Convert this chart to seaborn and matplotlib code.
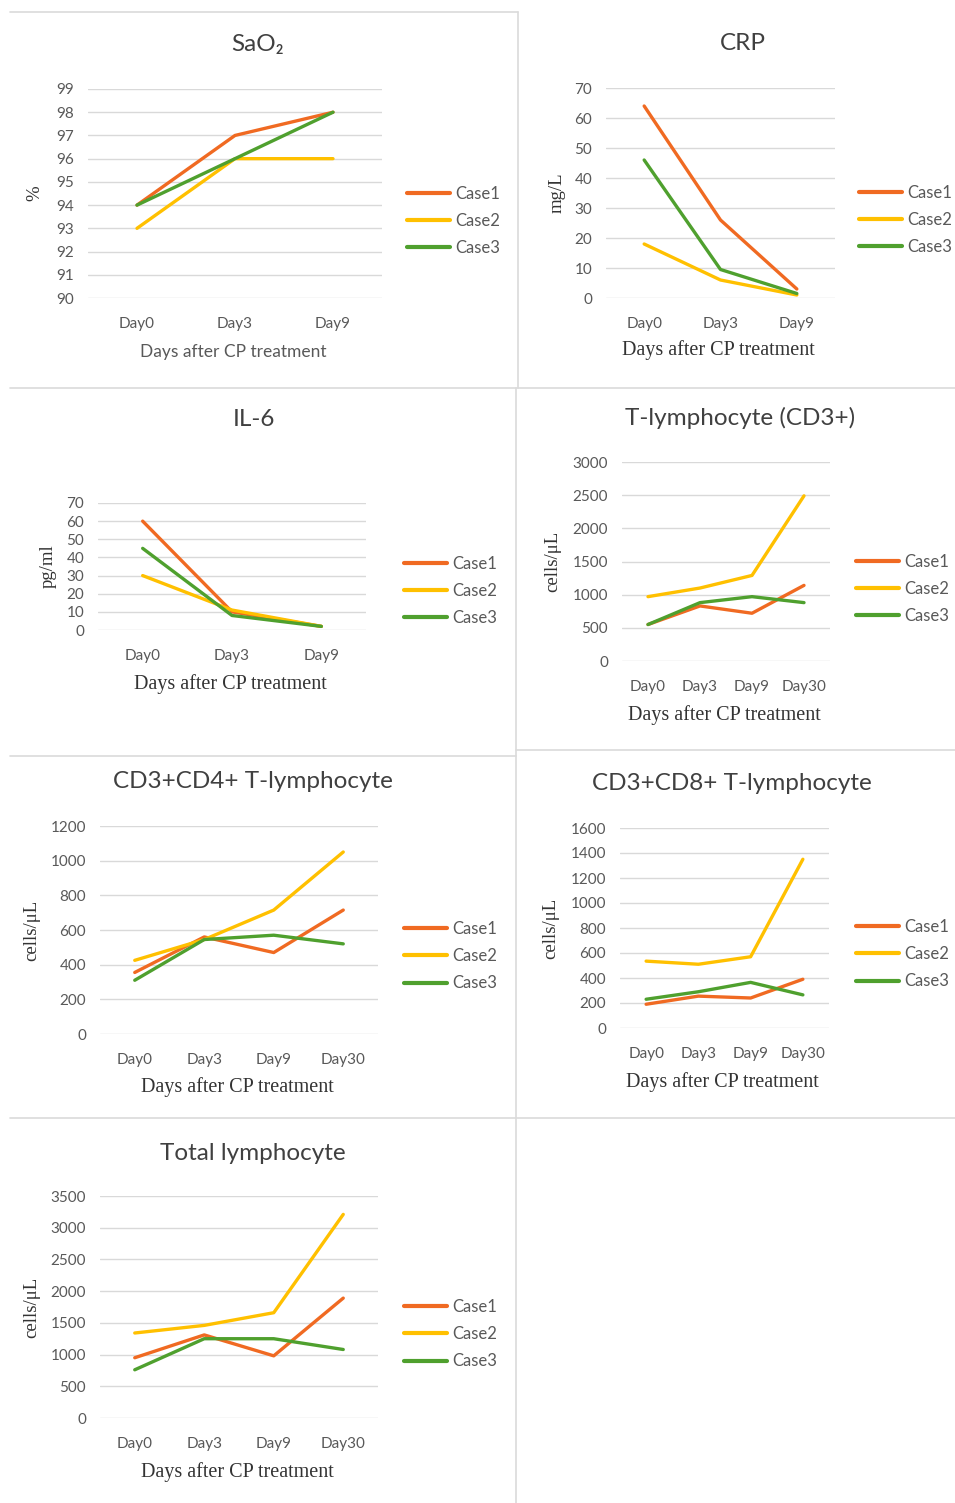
import matplotlib
matplotlib.use("Agg")
import matplotlib.pyplot as plt
from matplotlib.lines import Line2D
import seaborn as sns
import pandas as pd

sns.set_theme(style="white")
plt.rcParams['font.family'] = ['Lato', 'DejaVu Sans']

W, H = 955, 1503

cases = ["Case1", "Case2", "Case3"]
colors = ["#F06A22", "#FFC000", "#4FA02E"]

days3 = ["Day0", "Day3", "Day9"]
days4 = ["Day0", "Day3", "Day9", "Day30"]

sao2_c1 = [94, 97, 98]
sao2_c2 = [93, 96, 96]
sao2_c3 = [94, 96, 98]

crp_c1 = [64, 26, 3]
crp_c2 = [18, 6, 1]
crp_c3 = [46, 9.5, 1.5]

il6_c1 = [60, 10, 2]
il6_c2 = [30, 11, 2]
il6_c3 = [45, 8, 2]

cd3_c1 = [550, 830, 720, 1140]
cd3_c2 = [970, 1100, 1290, 2490]
cd3_c3 = [550, 880, 970, 880]

cd4_c1 = [355, 560, 470, 715]
cd4_c2 = [425, 545, 715, 1050]
cd4_c3 = [310, 545, 570, 520]

cd8_c1 = [190, 255, 240, 390]
cd8_c2 = [535, 510, 570, 1350]
cd8_c3 = [230, 290, 365, 265]

tot_c1 = [950, 1310, 980, 1890]
tot_c2 = [1340, 1460, 1660, 3210]
tot_c3 = [760, 1250, 1250, 1080]

panels = [
    dict(title="SaO₂", days=days3, vals=[sao2_c1, sao2_c2, sao2_c3],
         ylim=(90, 99), ticks=list(range(90, 100)), ylabel="%",
         ax_px=(88, 89, 382, 298), title_xy=(258, 45), ylab_x=35,
         xlab_y=352, leg=(405, 193), xlab_sans=True),
    dict(title="CRP", days=days3, vals=[crp_c1, crp_c2, crp_c3],
         ylim=(0, 70), ticks=list(range(0, 71, 10)), ylabel="mg/L",
         ax_px=(606, 88, 835, 298), title_xy=(743, 43), ylab_x=557,
         xlab_y=350, leg=(857, 192), xlab_sans=False),
    dict(title="IL-6", days=days3, vals=[il6_c1, il6_c2, il6_c3],
         ylim=(0, 70), ticks=list(range(0, 71, 10)), ylabel="pg/ml",
         ax_px=(98, 503, 366, 630), title_xy=(254, 420), ylab_x=48,
         xlab_y=684, leg=(402, 563), xlab_sans=False),
    dict(title="T-lymphocyte (CD3+)", days=days4, vals=[cd3_c1, cd3_c2, cd3_c3],
         ylim=(0, 3000), ticks=list(range(0, 3001, 500)), ylabel="cells/μL",
         ax_px=(622, 462, 830, 661), title_xy=(740, 418), ylab_x=553,
         xlab_y=715, leg=(854, 561), xlab_sans=False),
    dict(title="CD3+CD4+ T-lymphocyte", days=days4, vals=[cd4_c1, cd4_c2, cd4_c3],
         ylim=(0, 1200), ticks=list(range(0, 1201, 200)), ylabel="cells/μL",
         ax_px=(100, 826, 378, 1034), title_xy=(253, 781), ylab_x=32,
         xlab_y=1087, leg=(402, 928), xlab_sans=False),
    dict(title="CD3+CD8+ T-lymphocyte", days=days4, vals=[cd8_c1, cd8_c2, cd8_c3],
         ylim=(0, 1600), ticks=list(range(0, 1601, 200)), ylabel="cells/μL",
         ax_px=(620, 828, 829, 1028), title_xy=(732, 784), ylab_x=551,
         xlab_y=1082, leg=(854, 926), xlab_sans=False),
    dict(title="Total lymphocyte", days=days4, vals=[tot_c1, tot_c2, tot_c3],
         ylim=(0, 3500), ticks=list(range(0, 3501, 500)), ylabel="cells/μL",
         ax_px=(100, 1196, 378, 1418), title_xy=(253, 1153), ylab_x=32,
         xlab_y=1472, leg=(402, 1306), xlab_sans=False),
]

fig = plt.figure(figsize=(W / 100, H / 100), dpi=100)
fig.patch.set_facecolor("white")

def fx(x):
    return x / W

def fy(y):
    return 1 - y / H

tick_col = "#595959"
text_col = "#404040"

for p in panels:
    x0, y0, x1, y1 = p["ax_px"]
    ax = fig.add_axes([fx(x0), fy(y1), (x1 - x0) / W, (y1 - y0) / H])
    rows = []
    for c, v in zip(cases, p["vals"]):
        for d, val in zip(p["days"], v):
            rows.append(dict(Day=d, Value=val, Case=c))
    df = pd.DataFrame(rows)
    sns.lineplot(data=df, x="Day", y="Value", hue="Case", palette=colors,
                 linewidth=2.4, ax=ax, legend=False, sort=False)
    n = len(p["days"])
    ax.set_xlim(-0.5, n - 0.5)
    ax.set_ylim(*p["ylim"])
    ax.set_yticks(p["ticks"])
    ax.set_yticklabels([str(t) for t in p["ticks"]])
    ax.set_xticks(range(n))
    ax.set_xticklabels(p["days"])
    for s in ax.spines.values():
        s.set_visible(False)
    ax.grid(axis="y", color="#D9D9D9", linewidth=1.0)
    ax.set_axisbelow(True)
    ax.tick_params(axis="both", length=0, labelsize=11, colors=tick_col)
    ax.tick_params(axis="y", pad=10)
    ax.tick_params(axis="x", pad=14)
    ax.set_xlabel("")
    ax.set_ylabel("")
    # title
    fig.text(fx(p["title_xy"][0]), fy(p["title_xy"][1]), p["title"],
             ha="center", va="center", fontsize=17.5, color=text_col,
             family=["Lato", "DejaVu Sans"])
    # y label
    fig.text(fx(p["ylab_x"]), fy((y0 + y1) / 2), p["ylabel"], rotation=90,
             ha="center", va="center", fontsize=13.5, color="#333333",
             family=["Liberation Serif", "DejaVu Serif"])
    # x label
    if p["xlab_sans"]:
        fig.text(fx((x0 + x1) / 2 - 2), fy(p["xlab_y"]), "Days after CP treatment",
                 ha="center", va="center", fontsize=12.5, color=tick_col)
    else:
        fig.text(fx((x0 + x1) / 2 - 2), fy(p["xlab_y"]), "Days after CP treatment",
                 ha="center", va="center", fontsize=14.5, color="#333333",
                 family=["Liberation Serif", "DejaVu Serif"])
    handles = [Line2D([0], [0], color=col, lw=3) for col in colors]
    ax.legend(handles, cases, loc="center left",
              bbox_to_anchor=(fx(p["leg"][0] + 2), fy(p["leg"][1] + 28)),
              bbox_transform=fig.transFigure, frameon=False,
              handlelength=2.6, handletextpad=0.3, labelspacing=0.68,
              borderpad=0, borderaxespad=0, fontsize=12, labelcolor=tick_col)

# panel borders
bc = "#DADADA"
def hline(y, xa, xb):
    fig.add_artist(Line2D([fx(xa), fx(xb)], [fy(y), fy(y)], color=bc, lw=1.2))
def vline(x, ya, yb):
    fig.add_artist(Line2D([fx(x), fx(x)], [fy(ya), fy(yb)], color=bc, lw=1.2))

hline(12, 10, 518)
vline(518, 12, 388)
hline(388, 10, 955)
vline(516, 388, 1503)
hline(756, 10, 516)
hline(750, 516, 955)
hline(1118, 10, 955)

fig.savefig("out.png", dpi=100, facecolor="white")
